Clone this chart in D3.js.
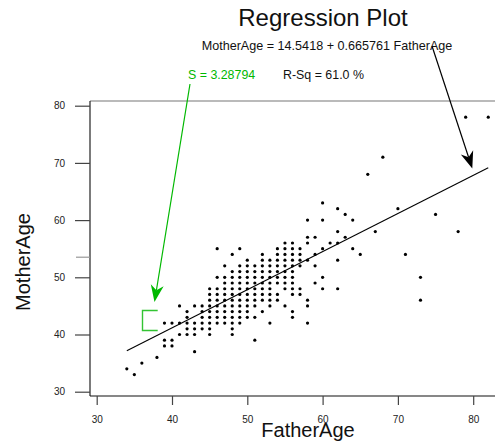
<!DOCTYPE html>
<html><head><meta charset="utf-8">
<script src="https://cdn.jsdelivr.net/npm/d3@7"></script>
<style>html,body{margin:0;padding:0;background:#fff;}svg{display:block;font-family:Arial,"Liberation Sans",sans-serif;}</style>
</head><body>
<svg id="c" width="495" height="445"></svg>
<script>
// Points grouped by MotherAge row: each row lists the FatherAge values seen at that MotherAge
const motherRows = [33,34,35,36,37,38,39,40,41,42,43,44,45,46,47,48,49,50,51,52,53,54,55,56,57,58,60,61,62,63,68,71,78];
const fatherByRow = [
  [35],[34],[36],[38],[43],[39,40],[39,40,51],
  [41,42,43,45,48],
  [42,43,44,45,48],
  [39,40,41,42,43,44,45,46,47,48,49,53,58],
  [42,44,45,46,47,48,49,50,51,56],
  [42,44,45,46,47,48,49,50,52,56],
  [41,43,44,45,46,47,48,49,50,51,53,55,58],
  [45,46,47,48,49,50,51,52,53,54,58,73],
  [45,46,47,48,49,50,51,52,53,54,56,57],
  [45,46,47,48,49,50,51,52,53,55,56,57,60,62],
  [47,48,49,50,51,52,53,54,55,56,59],
  [46,47,48,49,50,51,52,53,54,55,56,60,73],
  [48,49,50,51,52,53,54,55,56],
  [47,49,50,51,52,53,54,55,56,57,59],
  [50,52,53,54,55,56,57,58,62],
  [48,52,54,55,56,57,59,65,71],
  [46,49,54,55,56,57,60,64],
  [55,56,58,61,62],
  [58,59,63],
  [62,67,78],
  [58,60,64],
  [63,75],
  [62,70],
  [60],[66],[68],[79,82]
];
const fatherAge = [];
const motherAge = [];
fatherByRow.forEach((row,i)=>row.forEach(f=>{fatherAge.push(f);motherAge.push(motherRows[i]);}));

const intercept = 14.5418, slope = 0.665761;
const xTicks = [30,40,50,60,70,80];
const yTicks = [30,40,50,60,70,80];
const yMinorTicks = [53.6];
const titleText = "Regression Plot";
const eqText = "MotherAge = 14.5418 + 0.665761 FatherAge";
const sText = "S = 3.28794";
const rText = "R-Sq = 61.0 %";

const svg = d3.select("#c");
const x = d3.scaleLinear().domain([30,80]).range([96.7,473.2]);
const y = d3.scaleLinear().domain([30,80]).range([391.7,105.7]);
const frame = {l:90, t:101, r:497, b:396};
const green = "#00b800";

// frame
svg.append("line").attr("x1",frame.l).attr("x2",frame.r).attr("y1",frame.t).attr("y2",frame.t).attr("stroke","#777").attr("stroke-width",1.2);
svg.append("line").attr("x1",frame.l).attr("x2",frame.l).attr("y1",frame.t).attr("y2",frame.b).attr("stroke","#222").attr("stroke-width",1.2);
svg.append("line").attr("x1",frame.l).attr("x2",frame.r).attr("y1",frame.b).attr("y2",frame.b).attr("stroke","#111").attr("stroke-width",1.2);

// axes
const ya = svg.append("g").attr("transform",`translate(${frame.l},0)`)
  .call(d3.axisLeft(y).tickValues(yTicks).tickSize(15).tickPadding(10).tickFormat(d3.format("d")));
ya.select(".domain").remove();
ya.selectAll(".tick line").attr("stroke","#444").attr("stroke-width",1.2);
ya.selectAll(".tick text").attr("font-size",10).attr("fill","#222").attr("font-family","Arial, 'Liberation Sans', sans-serif");

const yb = svg.append("g").attr("transform",`translate(${frame.l},0)`)
  .call(d3.axisLeft(y).tickValues(yMinorTicks).tickSize(14).tickFormat(""));
yb.select(".domain").remove();
yb.selectAll(".tick line").attr("stroke","#999").attr("stroke-width",1.2);

const xa = svg.append("g").attr("transform",`translate(0,${frame.b})`)
  .call(d3.axisBottom(x).tickValues(xTicks).tickSize(9).tickPadding(10.5).tickFormat(d3.format("d")));
xa.select(".domain").remove();
xa.selectAll(".tick line").attr("stroke","#444").attr("stroke-width",1.2);
xa.selectAll(".tick text").attr("font-size",10).attr("fill","#222").attr("font-family","Arial, 'Liberation Sans', sans-serif");

// regression line
const xmin = d3.min(fatherAge), xmax = d3.max(fatherAge);
svg.append("line")
  .attr("x1",x(xmin)).attr("y1",y(intercept+slope*xmin))
  .attr("x2",x(xmax)).attr("y2",y(intercept+slope*xmax))
  .attr("stroke","#000").attr("stroke-width",1.1);

// points
svg.append("g").selectAll("circle").data(fatherAge.map((f,i)=>[f,motherAge[i]])).join("circle")
  .attr("cx",d=>x(d[0])).attr("cy",d=>y(d[1])).attr("r",1.6).attr("fill","#000");

// texts
svg.append("text").attr("x",323).attr("y",26).attr("text-anchor","middle").attr("font-size",24).attr("fill","#111").text(titleText);
svg.append("text").attr("x",327).attr("y",50).attr("text-anchor","middle").attr("font-size",12.6).attr("fill","#111").text(eqText);
svg.append("text").attr("x",188).attr("y",79).attr("font-size",12.4).attr("fill",green).text(sText);
svg.append("text").attr("x",283).attr("y",79).attr("font-size",12.4).attr("fill","#111").text(rText);
svg.append("text").attr("x",308).attr("y",437).attr("text-anchor","middle").attr("font-size",20).attr("fill","#111").text("FatherAge");
svg.append("text").attr("transform","translate(30,262) rotate(-90)").attr("text-anchor","middle").attr("font-size",20).attr("fill","#111").text("MotherAge");

// arrows
function arrow(x1,y1,x2,y2,color,len,half){
  const dx=x2-x1, dy=y2-y1, L=Math.hypot(dx,dy), ux=dx/L, uy=dy/L, px=-uy, py=ux;
  const bx=x2-ux*len, by=y2-uy*len, nx=x2-ux*len*0.7, ny=y2-uy*len*0.7;
  svg.append("line").attr("x1",x1).attr("y1",y1).attr("x2",nx).attr("y2",ny).attr("stroke",color).attr("stroke-width",1.2);
  svg.append("path").attr("d",`M${x2},${y2}L${bx+px*half},${by+py*half}L${nx},${ny}L${bx-px*half},${by-py*half}Z`).attr("fill",color);
}
arrow(190,84,154.5,302,green,17,6.5);
arrow(432,46,472.3,168.5,"#000",17,6.5);

// bracket
svg.append("path").attr("d","M157.7,310.5H142.5V330.5H157.7").attr("fill","none").attr("stroke","#33c433").attr("stroke-width",1.4);
</script>
</body></html>
